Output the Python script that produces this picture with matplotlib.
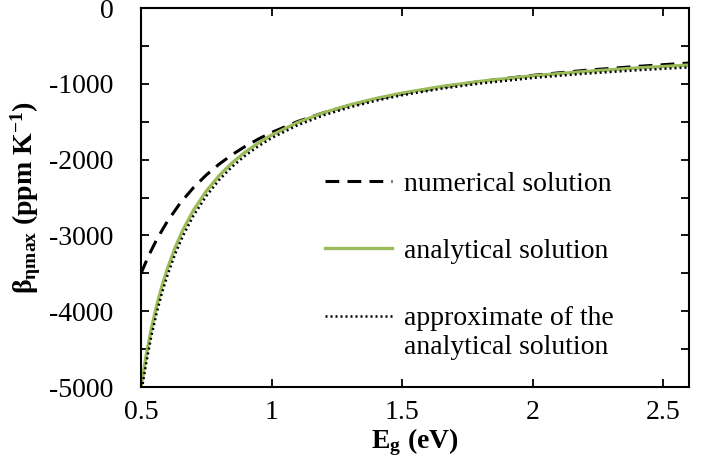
import matplotlib
matplotlib.use("Agg")
import matplotlib.pyplot as plt
from matplotlib.ticker import MultipleLocator, FuncFormatter

# Data
eg_num = [0.50, 0.53, 0.56, 0.60, 0.65, 0.70, 0.75, 0.80, 0.85, 0.90, 0.95,
          1.00, 1.10, 1.20, 1.30, 1.40, 1.50, 1.65, 1.80, 2.00, 2.20, 2.40, 2.60]
beta_num = [-3500, -3261, -3054, -2819, -2574, -2372, -2202, -2057, -1932,
            -1823, -1727, -1642, -1497, -1380, -1282, -1200, -1130, -1041,
            -969, -888, -822, -770, -725]

eg_ana = [0.50, 0.52, 0.54, 0.56, 0.58, 0.60, 0.63, 0.66, 0.70, 0.75, 0.80,
          0.85, 0.90, 0.95, 1.00, 1.10, 1.20, 1.30, 1.40, 1.50, 1.65, 1.80,
          2.00, 2.20, 2.40, 2.60]
beta_ana = [-5000, -4577, -4224, -3926, -3670, -3449, -3167, -2932, -2673,
            -2415, -2208, -2039, -1898, -1779, -1676, -1510, -1381, -1278,
            -1193, -1122, -1036, -967, -894, -837, -790, -752]
beta_approx = [-5090, -4680, -4320, -4020, -3760, -3540, -3250, -3010, -2745,
               -2480, -2265, -2090, -1945, -1822, -1715, -1545, -1414, -1309,
               -1222, -1150, -1064, -995, -922, -866, -820, -783]

labels = ['numerical solution', 'analytical solution',
          'approximate of the\nanalytical solution']

plt.rcParams['font.family'] = 'Liberation Serif'
plt.rcParams['mathtext.fontset'] = 'custom'
plt.rcParams['mathtext.rm'] = 'Liberation Serif'
plt.rcParams['mathtext.bf'] = 'Liberation Serif:bold'
plt.rcParams['mathtext.default'] = 'regular'
plt.rcParams['axes.unicode_minus'] = False

fig = plt.figure(figsize=(7.13, 4.73), dpi=100)
ax = fig.add_axes([0.1978, 0.1818, 0.7692, 0.8012])

ax.plot(eg_num, beta_num, color='black', lw=2.2, linestyle=(0, (4.5, 2.7)),
        label=labels[0])
ax.plot(eg_ana, beta_ana, color='#9bbb59', lw=2.4, label=labels[1])
ax.plot(eg_ana, beta_approx, color='black', lw=1.8, linestyle=(0, (0.8, 1.2)),
        label=labels[2])

ax.set_xlim(0.5, 2.6)
ax.set_ylim(-5000, 0)
ax.xaxis.set_major_locator(MultipleLocator(0.5))
ax.xaxis.set_major_formatter(FuncFormatter(lambda v, p: f'{v:g}'))
ax.yaxis.set_major_locator(MultipleLocator(1000))
ax.yaxis.set_minor_locator(MultipleLocator(500))
ax.tick_params(which='both', direction='in', top=True, right=True,
               length=6, width=1.3, labelsize=20)
ax.tick_params(axis='y', pad=20)
ax.tick_params(axis='x', pad=9)
for s in ax.spines.values():
    s.set_linewidth(1.5)

ax.set_xlabel('E$_g$ (eV)', fontsize=20, fontweight='bold', labelpad=1)
ax.set_ylabel('β$_{ηmax}$ (ppm K$^{-1}$)', fontsize=20, fontweight='bold',
              labelpad=4)

leg = ax.legend(loc='upper left', bbox_to_anchor=(0.31, 0.605), frameon=False,
                fontsize=20, handlelength=2.4, handletextpad=0.45,
                labelspacing=1.5, borderpad=0)
# put the two-line entry's key next to its first line, as in the original
try:
    entries = leg._legend_handle_box.get_children()[0].get_children()
    entries[-1].align = 'top'
except Exception:
    pass

fig.savefig('out.png', dpi=100)
